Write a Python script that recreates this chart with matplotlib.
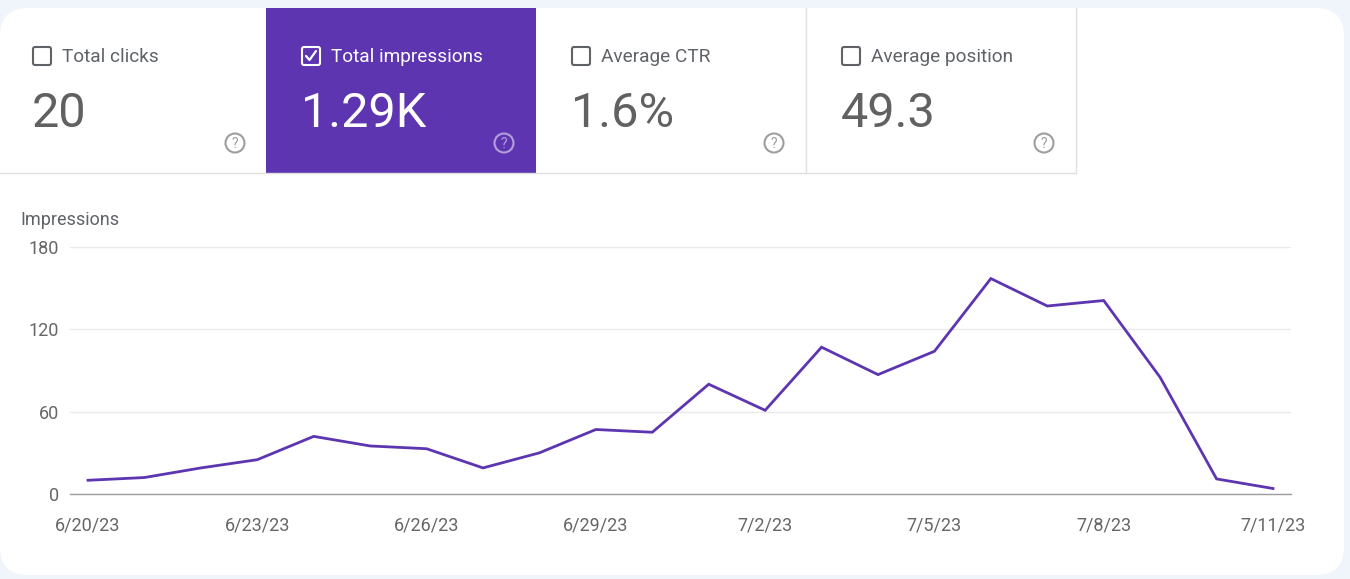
import matplotlib
matplotlib.use("Agg")
import matplotlib.pyplot as plt
from matplotlib.patches import FancyBboxPatch, Rectangle, Circle

plt.rcParams['font.family'] = ['Roboto', 'DejaVu Sans']

# data
dates = ["6/20/23", "6/21/23", "6/22/23", "6/23/23", "6/24/23", "6/25/23",
         "6/26/23", "6/27/23", "6/28/23", "6/29/23", "6/30/23", "7/1/23",
         "7/2/23", "7/3/23", "7/4/23", "7/5/23", "7/6/23", "7/7/23",
         "7/8/23", "7/9/23", "7/10/23", "7/11/23"]
impressions = [10, 12, 19, 25, 42, 35, 33, 19, 30, 47, 45, 80,
               61, 107, 87, 104, 157, 137, 141, 85, 11, 4]
y_ticks = [0, 60, 120, 180]

tile_labels = ["Total clicks", "Total impressions", "Average CTR", "Average position"]
tile_values = ["20", "1.29K", "1.6%", "49.3"]
selected = 1

PURPLE = "#5e35b1"
W, H = 1350, 579

fig = plt.figure(figsize=(W / 100, H / 100), dpi=100)
fig.patch.set_facecolor("#f0f4fb")

bg = fig.add_axes([0, 0, 1, 1])
bg.set_xlim(0, W)
bg.set_ylim(H, 0)
bg.axis("off")

# white card
bg.add_patch(FancyBboxPatch((0, 8), 1344, 567, boxstyle="round,pad=0,rounding_size=28",
                            facecolor="white", edgecolor="none"))

# metric tiles
tile_left = [-3, 266, 536, 806]
tile_w = 270
for i, (lab, val) in enumerate(zip(tile_labels, tile_values)):
    x0 = tile_left[i]
    on = i == selected
    if on:
        bg.add_patch(Rectangle((x0, 8), tile_w, 165, facecolor=PURPLE, edgecolor="none"))
    fg = "white" if on else "#5f6368"
    valc = "white" if on else "#616161"
    # checkbox
    bx = x0 + 36
    bg.add_patch(FancyBboxPatch((bx, 47), 18, 18, boxstyle="round,pad=0,rounding_size=2",
                                facecolor="none", edgecolor=fg, lw=1.5))
    if on:
        bg.plot([bx + 4, bx + 7.5, bx + 14], [56, 60, 51], color="white", lw=1.6,
                solid_capstyle="round", solid_joinstyle="round")
    bg.text(bx + 29, 56.5, lab, fontsize=13.7, color=fg, va="center", ha="left")
    bg.text(bx - 1, 127, val, fontsize=35, color=valc, va="baseline", ha="left")
    # help icon
    hc = "#b39ddb" if on else "#9e9e9e"
    cx = x0 + tile_w - 32
    bg.add_patch(Circle((cx, 143), 9.5, facecolor="none", edgecolor=hc, lw=1.5))
    bg.text(cx, 143.5, "?", fontsize=10, color=hc, ha="center", va="center")

# tile separators
for xs in [805.5, 1075.5]:
    bg.plot([xs, xs], [8, 173], color="#e0e0e0", lw=1)
bg.plot([0, 1075.5], [173, 173], color="#e0e0e0", lw=1)

bg.text(20, 220, "Impressions", fontsize=13, color="#5f6368", ha="left", va="center")

# chart
ax = fig.add_axes([70 / W, (H - 494) / H, (1291 - 70) / W, 247 / H])
ax.set_facecolor("none")
x = list(range(len(dates)))
ax.plot(x, impressions, color=PURPLE, lw=2.0, solid_joinstyle="miter")
ax.set_ylim(0, 180)
ppd = (1273 - 88) / 21
ax.set_xlim(-(88 - 70) / ppd, 21 + (1291 - 1273) / ppd)
ax.set_yticks(y_ticks)
ax.set_xticks(x[::3])
ax.set_xticklabels(dates[::3])
for s in ["top", "right", "left"]:
    ax.spines[s].set_visible(False)
ax.spines["bottom"].set_color("#9e9e9e")
ax.spines["bottom"].set_linewidth(1)
ax.grid(axis="y", color="#e8eaed", lw=1)
ax.set_axisbelow(True)
ax.tick_params(axis="both", length=0, labelsize=13, labelcolor="#666666")
ax.tick_params(axis="y", pad=8)
ax.tick_params(axis="x", pad=16)

fig.savefig("out.png", dpi=100, facecolor=fig.get_facecolor())
